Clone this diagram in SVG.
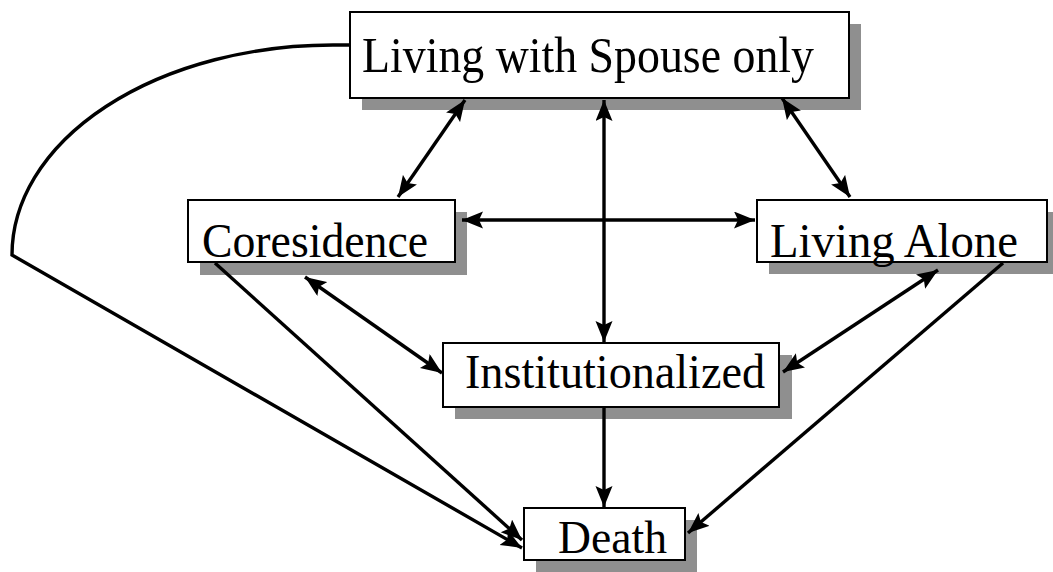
<svg xmlns="http://www.w3.org/2000/svg" width="1053" height="572" viewBox="0 0 1053 572">
  <style>
    .box { fill: #ffffff; stroke: #000000; stroke-width: 2; }
    .shadow { fill: #8f8f8f; }
    .lbl { font-family: "Liberation Serif", "Times New Roman", serif; fill: #000000; }
    .conn { fill: none; stroke: #000000; stroke-width: 3.4; }
  </style>
  <defs>
    <marker id="arrow" markerUnits="userSpaceOnUse" markerWidth="24" markerHeight="18" refX="21" refY="8.5" orient="auto-start-reverse">
      <path d="M0,0 L21,8.5 L0,17 L4,8.5 z" fill="#000000"/>
    </marker>
  </defs>
  <rect width="1053" height="572" fill="#ffffff"/>

  <g id="shadows">
    <rect class="shadow" x="362" y="24" width="499" height="86"/>
    <rect class="shadow" x="200" y="212" width="267" height="63"/>
    <rect class="shadow" x="769" y="212" width="290" height="62"/>
    <rect class="shadow" x="455" y="355" width="337" height="64"/>
    <rect class="shadow" x="536" y="520" width="161" height="60"/>
  </g>

  <g id="connectors">
    <path class="conn" d="M350,45 L333,45 A321,210 0 0 0 12,255 L522,548" marker-end="url(#arrow)"/>
    <line class="conn" x1="465" y1="100" x2="398" y2="197" marker-start="url(#arrow)" marker-end="url(#arrow)"/>
    <line class="conn" x1="604" y1="100" x2="604" y2="342" marker-start="url(#arrow)" marker-end="url(#arrow)"/>
    <line class="conn" x1="782" y1="98" x2="850" y2="197" marker-start="url(#arrow)" marker-end="url(#arrow)"/>
    <line class="conn" x1="462" y1="220" x2="755" y2="220" marker-start="url(#arrow)" marker-end="url(#arrow)"/>
    <line class="conn" x1="305" y1="277" x2="442" y2="373" marker-start="url(#arrow)" marker-end="url(#arrow)"/>
    <line class="conn" x1="938" y1="270" x2="783" y2="372" marker-start="url(#arrow)" marker-end="url(#arrow)"/>
    <line class="conn" x1="215" y1="263" x2="522" y2="540" marker-end="url(#arrow)"/>
    <line class="conn" x1="604" y1="407" x2="604" y2="507" marker-end="url(#arrow)"/>
    <line class="conn" x1="1003" y1="263" x2="688" y2="533" marker-end="url(#arrow)"/>
  </g>

  <g id="node-spouse">
    <rect class="box" x="350" y="12" width="499" height="86"/>
    <text class="lbl" x="362" y="72" font-size="51" textLength="452" lengthAdjust="spacingAndGlyphs">Living with Spouse only</text>
  </g>
  <g id="node-coresidence">
    <rect class="box" x="188" y="200" width="267" height="62"/>
    <text class="lbl" x="202" y="257" font-size="49" textLength="226" lengthAdjust="spacingAndGlyphs">Coresidence</text>
  </g>
  <g id="node-alone">
    <rect class="box" x="757" y="200" width="290" height="62"/>
    <text class="lbl" x="770" y="257" font-size="49" textLength="248" lengthAdjust="spacingAndGlyphs">Living Alone</text>
  </g>
  <g id="node-institutionalized">
    <rect class="box" x="443" y="343" width="336" height="64"/>
    <text class="lbl" x="465" y="388" font-size="48" textLength="300" lengthAdjust="spacingAndGlyphs">Institutionalized</text>
  </g>
  <g id="node-death">
    <rect class="box" x="524" y="508" width="161" height="52"/>
    <text class="lbl" x="558" y="553" font-size="47" textLength="109" lengthAdjust="spacingAndGlyphs">Death</text>
  </g>
</svg>
